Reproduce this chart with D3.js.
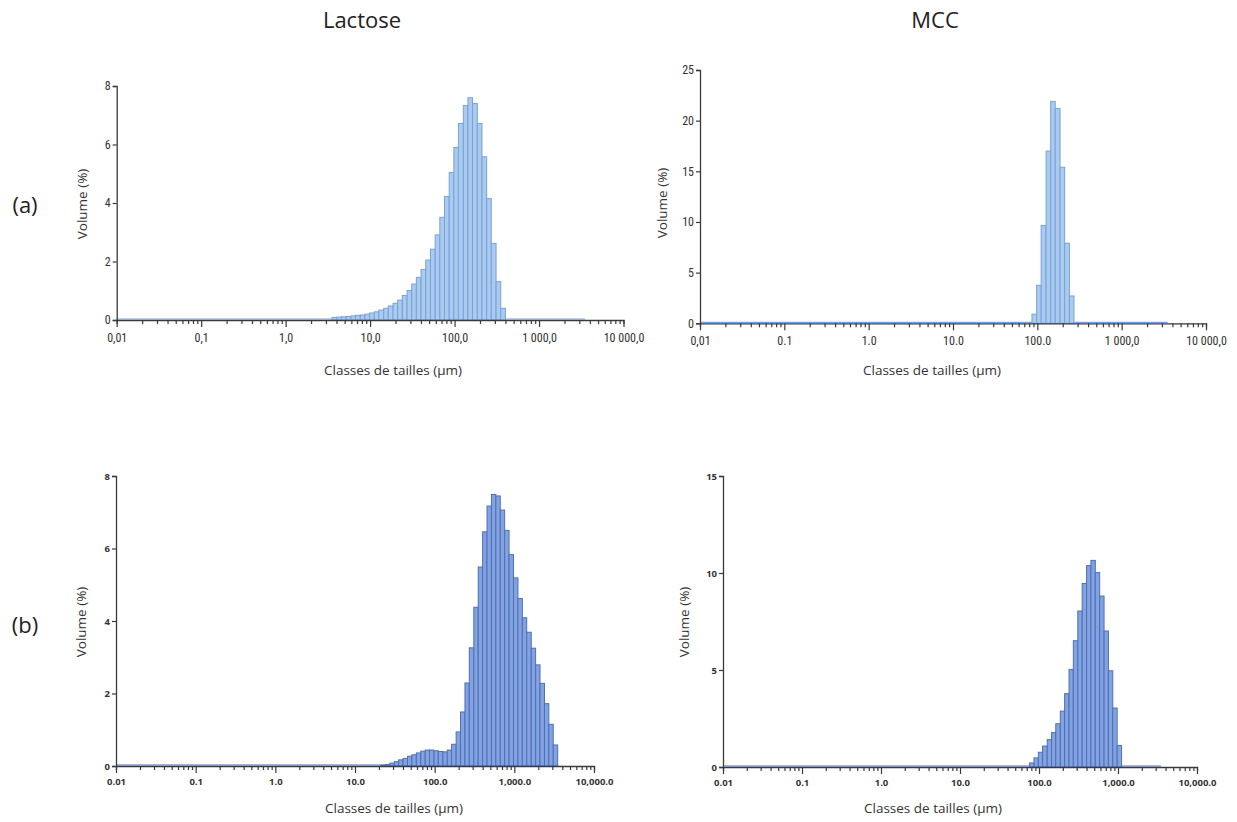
<!DOCTYPE html>
<html>
<head>
<meta charset="utf-8">
<script src="https://cdn.jsdelivr.net/npm/d3@7"></script>
<style>
  html, body { margin: 0; padding: 0; background: #fff; }
  svg { display: block; }
</style>
</head>
<body>
<svg id="chart" width="1237" height="822"></svg>
<script>
// ---- Data ----
// Size classes (µm): 101 class edges, 100 classes
const classEdges = [0.0100, 0.0114, 0.0129, 0.0147, 0.0167, 0.0189, 0.0215, 0.0244, 0.0278, 0.0315,
  0.0358, 0.0407, 0.0463, 0.0526, 0.0597, 0.0679, 0.0771, 0.0876, 0.0995, 0.113,
  0.128, 0.146, 0.166, 0.188, 0.214, 0.243, 0.276, 0.314, 0.357, 0.405,
  0.460, 0.523, 0.594, 0.675, 0.767, 0.872, 0.991, 1.13, 1.28, 1.45,
  1.65, 1.88, 2.13, 2.42, 2.75, 3.12, 3.55, 4.03, 4.58, 5.21,
  5.92, 6.72, 7.64, 8.68, 9.86, 11.2, 12.7, 14.5, 16.4, 18.7,
  21.2, 24.1, 27.4, 31.1, 35.3, 40.1, 45.6, 51.8, 58.9, 66.9,
  76.0, 86.4, 98.1, 111, 127, 144, 163, 186, 211, 240,
  272, 310, 352, 400, 454, 516, 586, 666, 756, 859,
  976, 1110, 1260, 1430, 1630, 1850, 2100, 2390, 2710, 3080, 3500];

const columnTitles = ["Lactose", "MCC"];
const rowLabels = ["(a)", "(b)"];
const xTitle = "Classes de tailles (µm)";
const yTitle = "Volume (%)";

const xMajorTicks = [0.01, 0.1, 1, 10, 100, 1000, 10000];
const xLabelsALactose = ["0,01", "0,1", "1,0", "10,0", "100,0", "1 000,0", "10 000,0"];
const xLabelsAMcc = ["0,01", "0.1", "1.0", "10.0", "100.0", "1 000,0", "10 000,0"];
const xLabelsB = ["0.01", "0.1", "1.0", "10.0", "100.0", "1,000.0", "10,000.0"];

const yTicksALactose = [0, 2, 4, 6, 8];
const yTicksAMcc = [0, 5, 10, 15, 20, 25];
const yTicksBLactose = [0, 2, 4, 6, 8];
const yTicksBMcc = [0, 5, 10, 15];

// (a) Lactose: first class 3.55 µm
const aLactoseFirstClass = 3.55;
const aLactoseValues = [0.09, 0.10, 0.11, 0.12, 0.14, 0.16, 0.17, 0.20, 0.24, 0.28,
  0.34, 0.40, 0.48, 0.57, 0.68, 0.84, 1.01, 1.23, 1.46, 1.73,
  2.05, 2.42, 2.91, 3.51, 4.22, 5.04, 5.90, 6.72, 7.33, 7.60,
  7.40, 6.72, 5.58, 4.15, 2.62, 1.31, 0.40];

// (a) MCC: first class 86.4 µm
const aMccFirstClass = 86.4;
const aMccValues = [0.9, 3.75, 9.65, 17.0, 21.9, 21.2, 15.4, 7.9, 2.7];

// (b) Lactose: first class 21.2 µm
const bLactoseFirstClass = 21.2;
const bLactoseValues = [0.02, 0.04, 0.08, 0.12, 0.17, 0.21, 0.27, 0.31, 0.36, 0.41,
  0.44, 0.44, 0.42, 0.40, 0.39, 0.44, 0.60, 0.94, 1.49, 2.29,
  3.26, 4.38, 5.49, 6.46, 7.17, 7.49, 7.45, 7.06, 6.50, 5.83,
  5.19, 4.62, 4.09, 3.69, 3.25, 2.79, 2.28, 1.72, 1.15, 0.58];

// (b) MCC: first class 76.0 µm
const bMccFirstClass = 76.0;
const bMccValues = [0.21, 0.47, 0.76, 1.08, 1.41, 1.77, 2.23, 2.88, 3.78, 5.03,
  6.51, 8.04, 9.46, 10.38, 10.65, 10.02, 8.81, 7.01, 4.96, 3.04, 1.11];

// ---- Layout ----
const svg = d3.select("#chart");
const fontMain = "'Open Sans', 'Noto Sans', sans-serif";
const fontNarrow = "'Liberation Sans Narrow', 'Roboto Condensed', 'Roboto', 'Liberation Sans', Arial, sans-serif";

const panels = [
  { first: aLactoseFirstClass, values: aLactoseValues, yTicks: yTicksALactose, xLabels: xLabelsALactose,
    x0: 116.7, x1: 623.5, yTop: 86, yZero: 320, yTitleX: 83, yTitleY: 204, xTitleX: 393, xTitleY: 375,
    fill: "#abcaee", stroke: "#74a3dd", tickFont: fontNarrow, tickSize: 12, tickWeight: 400, labelDy: 13 },
  { first: aMccFirstClass, values: aMccValues, yTicks: yTicksAMcc, xLabels: xLabelsAMcc,
    x0: 700, x1: 1206, yTop: 70, yZero: 323.3, yTitleX: 663, yTitleY: 203, xTitleX: 932, xTitleY: 375,
    fill: "#abcaee", stroke: "#74a3dd", tickFont: fontNarrow, tickSize: 12, tickWeight: 400, labelDy: 13 },
  { first: bLactoseFirstClass, values: bLactoseValues, yTicks: yTicksBLactose, xLabels: xLabelsB,
    x0: 116, x1: 594, yTop: 476, yZero: 766, yTitleX: 82, yTitleY: 622, xTitleX: 394, xTitleY: 813,
    fill: "#84a2dc", stroke: "#4a6fc2", tickFont: fontMain, tickSize: 9.5, tickWeight: 700, labelDy: 12 },
  { first: bMccFirstClass, values: bMccValues, yTicks: yTicksBMcc, xLabels: xLabelsB,
    x0: 723, x1: 1197, yTop: 476, yZero: 767, yTitleX: 685, yTitleY: 622, xTitleX: 933, xTitleY: 813,
    fill: "#84a2dc", stroke: "#4a6fc2", tickFont: fontMain, tickSize: 9.5, tickWeight: 700, labelDy: 12 }
];

// column titles & row labels
const colX = [362, 935];
columnTitles.forEach((t, i) => {
  svg.append("text").attr("x", colX[i]).attr("y", 28).attr("text-anchor", "middle")
    .attr("font-family", fontMain).attr("font-size", 22).attr("fill", "#222").text(t);
});
const rowY = [213, 633];
rowLabels.forEach((t, i) => {
  svg.append("text").attr("x", 25).attr("y", rowY[i]).attr("text-anchor", "middle")
    .attr("font-family", fontMain).attr("font-size", 22).attr("fill", "#222").text(t);
});

// minor + major ticks for log axis
const allTicks = [];
for (let e = -2; e <= 4; e++) {
  for (let m = 1; m <= 9; m++) {
    const v = m * Math.pow(10, e);
    if (v <= 10000 * 1.0001) allTicks.push(+v.toPrecision(6));
  }
}

panels.forEach(p => {
  const x = d3.scaleLog().domain([0.01, 10000]).range([p.x0, p.x1]);
  const yMax = p.yTicks[p.yTicks.length - 1];
  const y = d3.scaleLinear().domain([0, yMax]).range([p.yZero, p.yTop]);

  const g = svg.append("g");

  const startIdx = classEdges.findIndex(v => Math.abs(v - p.first) < 1e-6);
  const bars = p.values.map((v, i) => ({ lo: classEdges[startIdx + i], hi: classEdges[startIdx + i + 1], v }));

  // baseline of zero-valued classes
  g.append("line")
    .attr("x1", x(classEdges[0])).attr("x2", x(classEdges[classEdges.length - 1]))
    .attr("y1", y(0) - 1).attr("y2", y(0) - 1)
    .attr("stroke", p.stroke).attr("stroke-width", 1.2);

  g.selectAll("rect.bar").data(bars).join("rect")
    .attr("class", "bar")
    .attr("x", d => x(d.lo))
    .attr("width", d => x(d.hi) - x(d.lo))
    .attr("y", d => y(d.v))
    .attr("height", d => y(0) - y(d.v))
    .attr("fill", p.fill)
    .attr("stroke", p.stroke)
    .attr("stroke-width", 1);

  // x axis
  const labelMap = new Map(xMajorTicks.map((t, i) => [t, p.xLabels[i]]));
  const xAxis = d3.axisBottom(x)
    .tickValues(allTicks)
    .tickSizeOuter(0)
    .tickSize(4)
    .tickPadding(p.labelDy - 4)
    .tickFormat(d => labelMap.has(d) ? labelMap.get(d) : "");
  const xg = g.append("g").attr("transform", `translate(0,${p.yZero})`).call(xAxis);
  xg.select(".domain").attr("stroke", "#3a3a3a").attr("stroke-width", 1.3);
  xg.selectAll(".tick line").attr("stroke", "#3a3a3a").attr("stroke-width", 1.2)
    .attr("y2", d => labelMap.has(d) ? 7 : 4);
  xg.selectAll(".tick text")
    .attr("font-family", p.tickFont).attr("font-size", p.tickSize)
    .attr("font-weight", p.tickWeight).attr("fill", "#333");

  // y axis
  const yAxis = d3.axisLeft(y).tickValues(p.yTicks).tickSizeOuter(0).tickSize(4).tickPadding(2)
    .tickFormat(d3.format("d"));
  const yg = g.append("g").attr("transform", `translate(${p.x0},0)`).call(yAxis);
  yg.select(".domain").attr("stroke", "#3a3a3a").attr("stroke-width", 1.3);
  yg.selectAll(".tick line").attr("stroke", "#3a3a3a").attr("stroke-width", 1.2);
  yg.selectAll(".tick text")
    .attr("font-family", p.tickFont).attr("font-size", p.tickSize)
    .attr("font-weight", p.tickWeight).attr("fill", "#333");

  // titles
  g.append("text")
    .attr("transform", `translate(${p.yTitleX},${p.yTitleY}) rotate(-90)`)
    .attr("text-anchor", "middle").attr("dominant-baseline", "middle")
    .attr("font-family", fontMain).attr("font-size", 13.5).attr("fill", "#333")
    .text(yTitle);
  g.append("text")
    .attr("x", p.xTitleX).attr("y", p.xTitleY)
    .attr("text-anchor", "middle")
    .attr("font-family", fontMain).attr("font-size", 13.5).attr("fill", "#333")
    .text(xTitle);
});
</script>
</body>
</html>
